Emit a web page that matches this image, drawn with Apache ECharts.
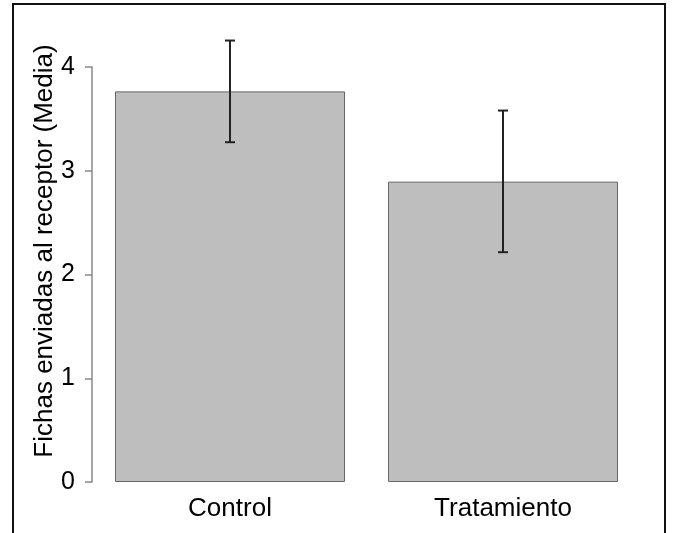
<!DOCTYPE html>
<html>
<head>
<meta charset="utf-8">
<script src="https://cdn.jsdelivr.net/npm/echarts@6/dist/echarts.min.js"></script>
<style>
html,body{margin:0;padding:0;background:#fff;}
#chart{width:676px;height:533px;}
</style>
</head>
<body>
<div id="chart"></div>
<script>
var categories = ['Control', 'Tratamiento'];
var means = [3.765, 2.895];
var errLow = [3.275, 2.215];
var errHigh = [4.255, 3.58];
var yTicks = [0, 1, 2, 3, 4];
var yLabel = 'Fichas enviadas al receptor (Media)';

var FONT = '"Liberation Sans", Arial, Helvetica, sans-serif';
var chart = echarts.init(document.getElementById('chart'));
var errData = categories.map(function (c, i) { return [i, errLow[i], errHigh[i]]; });

chart.setOption({
  animation: false,
  backgroundColor: '#fff',
  grid: { left: 93.5, right: 36.5, top: 67, bottom: 51 },
  xAxis: {
    type: 'category',
    data: categories,
    axisLine: { show: false },
    axisTick: { show: false },
    axisLabel: { color: '#000', fontSize: 26, fontFamily: FONT, margin: 14 }
  },
  yAxis: {
    type: 'value',
    min: yTicks[0],
    max: yTicks[yTicks.length - 1],
    interval: 1,
    offset: 1.5,
    axisLine: { show: true, lineStyle: { color: '#888', width: 1.5 } },
    axisTick: { show: true, length: 7, lineStyle: { color: '#888', width: 1.5 } },
    splitLine: { show: false },
    axisLabel: { color: '#000', fontSize: 25, fontFamily: FONT, margin: 17 }
  },
  series: [
    {
      type: 'bar',
      data: means,
      barWidth: 230,
      itemStyle: { color: '#bebebe', borderColor: '#666', borderWidth: 1 },
      z: 2
    },
    {
      type: 'custom',
      clip: false,
      z: 5,
      data: errData,
      renderItem: function (params, api) {
        var x = api.coord([api.value(0), api.value(1)])[0];
        var yl = api.coord([api.value(0), api.value(1)])[1];
        var yh = api.coord([api.value(0), api.value(2)])[1];
        var hw = 5;
        var st = { stroke: '#222', lineWidth: 2 };
        return {
          type: 'group',
          children: [
            { type: 'line', shape: { x1: x, y1: yl, x2: x, y2: yh }, style: st },
            { type: 'line', shape: { x1: x - hw, y1: yl, x2: x + hw, y2: yl }, style: st },
            { type: 'line', shape: { x1: x - hw, y1: yh, x2: x + hw, y2: yh }, style: st }
          ]
        };
      }
    }
  ],
  graphic: [
    {
      type: 'rect',
      shape: { x: 13, y: 4, width: 652, height: 560 },
      style: { fill: 'none', stroke: '#111', lineWidth: 2 },
      z: 0
    },
    {
      type: 'text',
      x: 45,
      y: 251,
      rotation: Math.PI / 2,
      style: {
        text: yLabel,
        fontSize: 26,
        fontFamily: FONT,
        fill: '#000',
        textAlign: 'center',
        textVerticalAlign: 'middle'
      }
    }
  ]
});
</script>
</body>
</html>
